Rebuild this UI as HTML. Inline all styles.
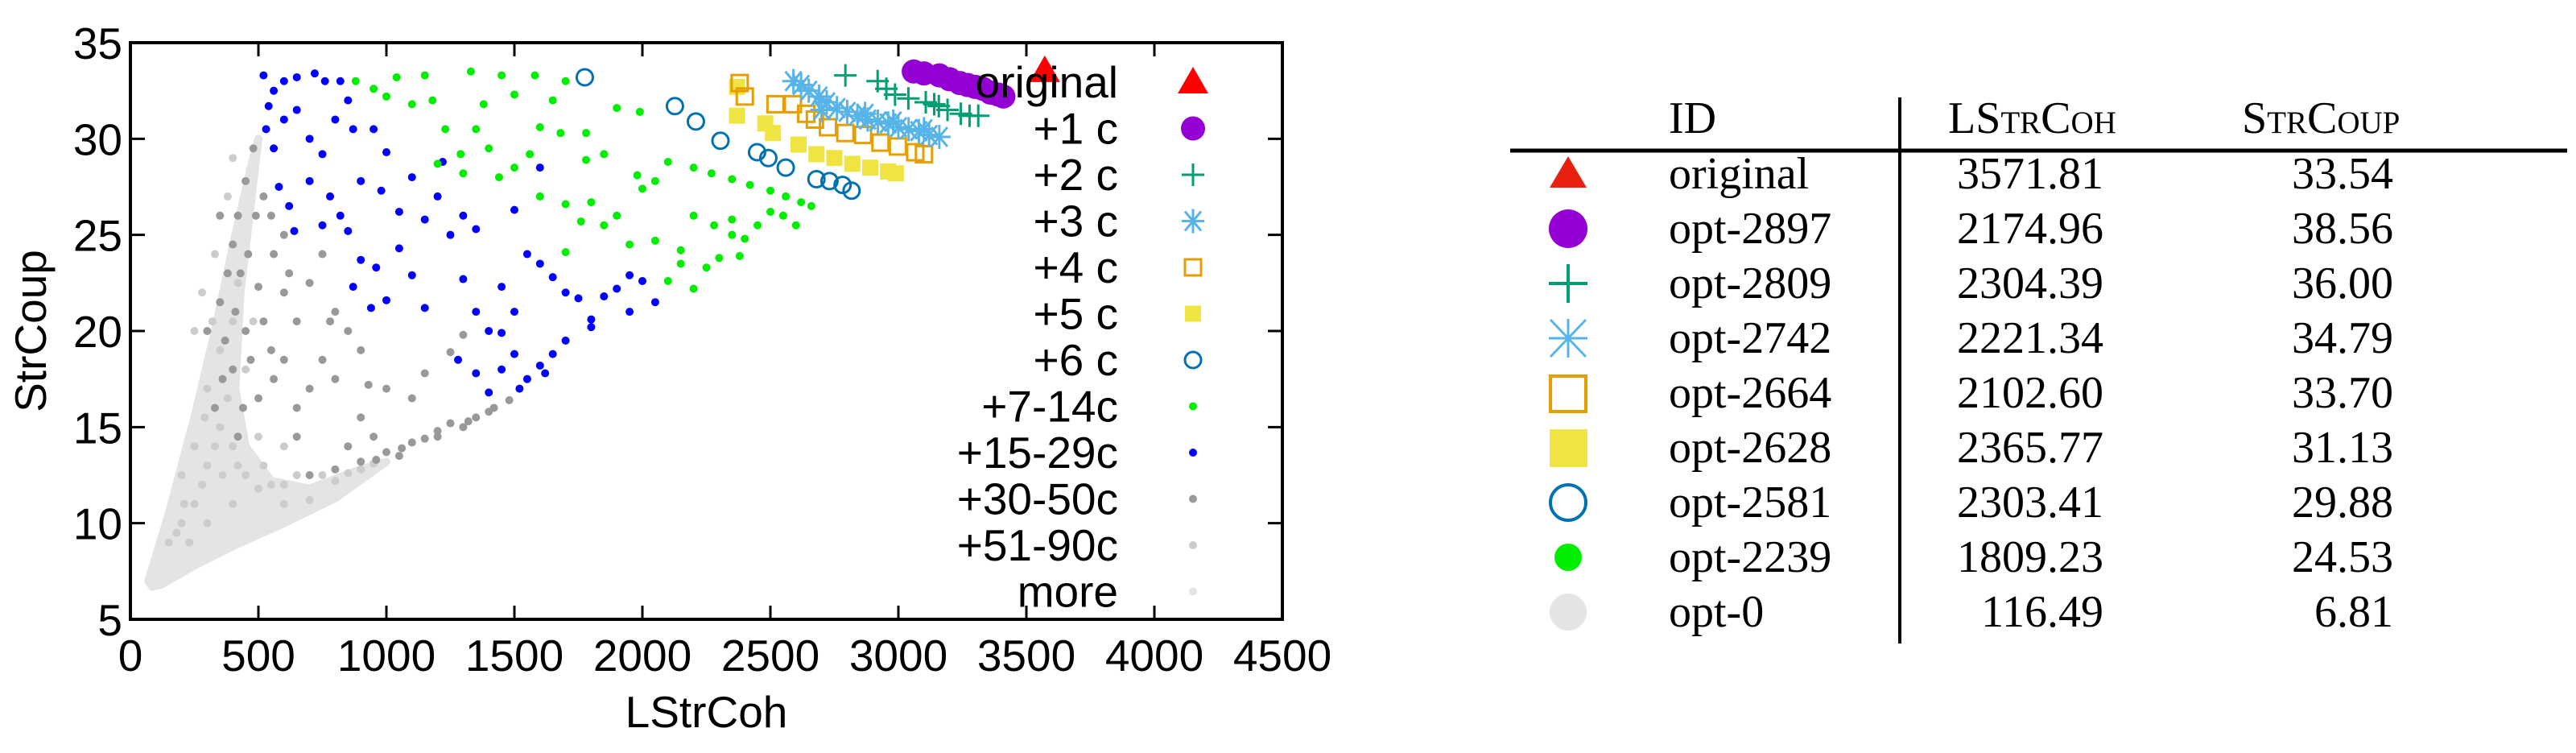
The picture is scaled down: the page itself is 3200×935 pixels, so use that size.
<!DOCTYPE html>
<html><head><meta charset="utf-8"><style>
html,body{margin:0;padding:0;background:#fff;}
svg{display:block;}
text{font-family:"Liberation Sans",sans-serif;}
.serif{font-family:"Liberation Serif",serif;}
</style></head><body>
<svg id="chart" width="3200" height="935" viewBox="0 0 3200 935" xmlns="http://www.w3.org/2000/svg">
<g id="plot"></g>
<g id="table"></g>
</svg>
<script>
// ---------- chart data ----------
const xTicks=[0,500,1000,1500,2000,2500,3000,3500,4000,4500];
const yTicks=[5,10,15,20,25,30,35];
const legendLabels=["original","+1 c","+2 c","+3 c","+4 c","+5 c","+6 c","+7-14c","+15-29c","+30-50c","+51-90c","more"];
const originalPts=[[3571.81,33.54]];
const c1Pts=[[3060,33.5],[3100,33.4],[3160,33.3],[3200,33.1],[3240,32.9],[3270,32.8],[3300,32.7],[3330,32.6],[3360,32.4],[3390,32.3],[3410,32.2]];
const c2Pts=[[2793,33.3],[2919,33.0],[2953,32.6],[2987,32.3],[3039,32.1],[3107,31.9],[3158,31.7],[3192,31.5],[3244,31.3],[3278,31.2],[3312,31.2],[3140,31.8]];
const c3Pts=[[2590,33.0],[2620,32.8],[2650,32.5],[2690,32.2],[2720,31.9],[2760,31.6],[2800,31.4],[2840,31.2],[2880,31.0],[2920,30.9],[2960,30.8],[3000,30.6],[3040,30.5],[3080,30.4],[3120,30.2],[3160,30.1],[2870,31.3],[2980,30.9],[3100,30.5],[2700,31.5]];
const c4Pts=[[2380,32.9],[2400,32.2],[2520,31.8],[2588,31.8],[2640,31.3],[2674,31.0],[2725,30.6],[2793,30.3],[2862,30.2],[2930,29.8],[2998,29.6],[3066,29.3],[3100,29.2]];
const c5Pts=[[2370,32.7],[2370,31.2],[2480,30.8],[2510,30.3],[2610,29.7],[2680,29.2],[2750,29.0],[2820,28.7],[2890,28.5],[2960,28.3],[2990,28.2]];
const c6Pts=[[1775,33.2],[2127,31.7],[2209,30.9],[2305,29.9],[2448,29.3],[2492,29.0],[2560,28.5],[2680,27.9],[2731,27.8],[2782,27.6],[2817,27.3]];
const c7Pts=[[880,33],[950,32.6],[1000,32.2],[1040,33.2],[1100,31.8],[1150,33.3],[1180,32],[1230,30.5],[1330,33.5],[1380,31.8],[1450,33.3],[1500,32.3],[1580,33.3],[1650,32],[1700,33],[1290,29.2],[1400,29.5],[1500,28.5],[1560,29.2],[1200,28.7],[1300,28.2],[1350,30.5],[1440,28],[1600,30.6],[1680,30.3],[1780,30.3],[1900,31.6],[1990,31.4],[1780,28.9],[1850,29.2],[1980,28.1],[2050,27.8],[2100,28.8],[2200,28.5],[2270,28.2],[2350,27.9],[2420,27.6],[2500,27.3],[2560,27],[2620,26.7],[2660,26.5],[1600,27],[1700,26.6],[1800,26.7],[1900,26],[2000,27.4],[2200,26],[2280,25.5],[2350,25],[2400,24.8],[2450,25.5],[2550,26],[2600,25.5],[1950,24.5],[2050,24.7],[2150,23.5],[2250,23.3],[2300,23.8],[2380,23.9],[2100,22.6],[2200,22.2],[1700,24.1],[1760,25.7],[1850,25.5],[2350,25.8],[2500,26.2],[2150,24.2]];
const c15Pts=[[520,33.3],[560,32.5],[540,31.7],[600,33],[650,33.2],[720,33.4],[760,33],[820,33],[850,32],[530,30.5],[560,29.5],[600,31],[650,31.5],[700,30],[750,29.2],[800,31],[870,30.5],[950,30.5],[580,27.5],[620,26.5],[700,27.8],[780,27],[850,25.2],[640,25.2],[750,25.5],[820,26],[900,27.8],[980,27.3],[1050,26.2],[1100,28],[1150,25.8],[1200,27],[1250,25],[1300,26],[1350,25.3],[900,23.7],[960,23.3],[1050,24.3],[1100,22.9],[1000,21.6],[940,21.2],[870,22.3],[1150,21.2],[1300,22.7],[1350,21],[1400,20],[1500,21],[1450,22.3],[1550,24],[1600,23.5],[1650,22.8],[1700,22],[1750,21.7],[1800,20.6],[1850,21.8],[1900,22.2],[1950,22.9],[2000,22.6],[1500,18.8],[1600,18.2],[1650,18.8],[1700,19.5],[1800,20.2],[1550,17.5],[1450,18],[1400,16.8],[1350,17.8],[1280,18.5],[1450,19.9],[1950,21],[2050,21.5],[1220,28.8],[1000,29.3],[1600,28.5],[1500,26.3],[1620,17.8],[1520,17]];
const c30Pts=[[480,29.5],[450,27.8],[420,26],[400,24.5],[380,23],[350,21.5],[600,22],[700,22.5],[650,20.5],[550,19],[600,18.5],[750,18.5],[800,17.5],[700,17],[650,16],[900,15.5],[950,14.5],[850,14],[1000,13.7],[1100,14.2],[1200,14.5],[1300,15],[1400,15.8],[1250,15.2],[1150,17.8],[1100,16.5],[1000,17],[1250,18.9],[1300,19.8],[850,20],[900,19],[500,22.3],[450,20],[750,24],[800,21],[1050,13.5],[1350,15.5],[1480,16.4],[700,12.5],[800,12.8],[900,13.2],[650,14.5],[400,18],[500,16.5],[550,26],[1150,14.4],[1200,14.8],[1320,15.3],[1420,16],[1060,13.9],[960,13.3],[350,26],[300,20],[560,24],[620,23],[780,20.5],[930,17.2],[460,24],[430,23],[410,21],[370,19.5],[360,17.5],[330,16],[470,18.5],[520,20.5],[440,16],[420,14.5],[560,17.5],[600,25],[520,27],[490,26]];
const c51Pts=[[300,17],[350,15],[400,14],[450,12.5],[500,11.8],[550,12],[600,11],[700,11.2],[800,12.2],[900,12.8],[300,13],[250,11],[200,10],[350,19],[400,20.5],[450,18],[250,14],[200,12.5],[150,9],[600,14],[500,14.5],[650,12.5],[400,11],[300,10],[280,22],[250,20],[330,24],[420,22.5],[480,20.5],[380,16.5],[330,14],[280,12],[230,9],[360,12.5],[420,13],[520,13],[600,12],[750,12.5],[850,12.6],[950,13.1],[320,20.5],[290,15.5],[210,11],[180,9.5],[380,27],[400,29]];
const morePoly=[[70,7],[150,10.5],[250,15.5],[330,20],[410,25],[470,28.5],[500,30],[430,22],[410,17],[450,14],[550,12.2],[700,11.8],[900,12.8],[1000,13.2],[800,11.3],[600,10],[400,8.8],[250,7.8],[120,6.8],[85,6.7]];
const morePts=[[110,7.5],[160,8.5],[220,9.5],[180,10.5],[260,12],[140,8],[330,9],[450,10],[600,10.5],[200,8],[300,11],[280,9.5],[380,10]];

// ---------- table data ----------
const tableIds=["original","opt-2897","opt-2809","opt-2742","opt-2664","opt-2628","opt-2581","opt-2239","opt-0"];
const tableLStrCoh=["3571.81","2174.96","2304.39","2221.34","2102.60","2365.77","2303.41","1809.23","116.49"];
const tableStrCoup=["33.54","38.56","36.00","34.79","33.70","31.13","29.88","24.53","6.81"];

const NS="http://www.w3.org/2000/svg";
const L=162,R=1593,T=53,B=769;
const X=v=>L+(v-0)/4500*(R-L);
const Y=v=>B-(v-5)/30*(B-T);
function mk(tag,attrs,parent){const e=document.createElementNS(NS,tag);for(const k in attrs)e.setAttribute(k,attrs[k]);parent.appendChild(e);return e;}
const plot=document.getElementById('plot');

const poly=mk('polygon',{points:morePoly.map(p=>X(p[0])+','+Y(p[1])).join(' '),fill:'#e4e4e4',stroke:'#e4e4e4','stroke-width':10,'stroke-linejoin':'round'},plot);



function marker(kind,cx,cy,g){
  let e;
  if(kind==='tri'){e=mk('polygon',{points:`${cx},${cy-19} ${cx-19},${cy+14} ${cx+19},${cy+14}`,fill:'#ff0000'},g);}
  else if(kind==='purple'){e=mk('circle',{cx,cy,r:15,fill:'#9400d3'},g);}
  else if(kind==='plus'){e=mk('path',{d:`M${cx-14},${cy}H${cx+14}M${cx},${cy-14}V${cy+14}`,stroke:'#009e73','stroke-width':3,fill:'none'},g);}
  else if(kind==='star'){e=mk('path',{d:`M${cx-14},${cy}H${cx+14}M${cx},${cy-15}V${cy+15}M${cx-10},${cy-12}L${cx+10},${cy+12}M${cx-10},${cy+12}L${cx+10},${cy-12}`,stroke:'#56b4e9','stroke-width':3,fill:'none'},g);}
  else if(kind==='osq'){e=mk('rect',{x:cx-10,y:cy-10,width:20,height:20,fill:'none',stroke:'#e69f00','stroke-width':3},g);}
  else if(kind==='fsq'){e=mk('rect',{x:cx-10,y:cy-10,width:20,height:20,fill:'#f0e442'},g);}
  else if(kind==='ocirc'){e=mk('circle',{cx,cy,r:10,fill:'none',stroke:'#0072b2','stroke-width':3},g);}
  else {e=mk('circle',{cx,cy,r:5,fill:kind},g);}
  return e;
}
const series=[
  ['more',morePts,'#e4e4e4'],['51-90c',c51Pts,'#cccccc'],['30-50c',c30Pts,'#999999'],
  ['15-29c',c15Pts,'#0000ff'],['7-14c',c7Pts,'#00ee00'],['6c',c6Pts,'ocirc'],
  ['5c',c5Pts,'fsq'],['4c',c4Pts,'osq'],['3c',c3Pts,'star'],['2c',c2Pts,'plus'],
  ['1c',c1Pts,'purple'],['original',originalPts,'tri']];
series.forEach(s=>{
  const g=mk('g',{},plot);
  
  
  s[1].forEach(p=>{const m=marker(s[2],X(p[0]),Y(p[1]),g);
    
    });
});

const frame=mk('rect',{x:L,y:T,width:R-L,height:B-T,fill:'none',stroke:'#000','stroke-width':4},plot);


xTicks.forEach(v=>{
  const x=X(v);
  mk('path',{d:`M${x},${B}V${B-17}M${x},${T}V${T+17}`,stroke:'#000','stroke-width':3},plot);
  const t=mk('text',{x:x,y:833,'font-size':55,'text-anchor':'middle'},plot);t.textContent=v;
  
  
});
yTicks.forEach(v=>{
  const y=Y(v);
  mk('path',{d:`M${L},${y}H${L+18}M${R},${y}H${R-18}`,stroke:'#000','stroke-width':3},plot);
  const t=mk('text',{x:L-10,y:y+20,'font-size':55,'text-anchor':'end'},plot);t.textContent=v;
  
  
});
const xt=mk('text',{x:(L+R)/2,y:903,'font-size':55,'text-anchor':'middle'},plot);xt.textContent='LStrCoh';


const yt=mk('text',{x:0,y:0,'font-size':55,'text-anchor':'middle',transform:`translate(57,${(T+B)/2}) rotate(-90)`},plot);yt.textContent='StrCoup';



const legKinds=['tri','purple','plus','star','osq','fsq','ocirc','#00ee00','#0000ff','#999999','#cccccc','#e4e4e4'];
const lg=mk('g',{},plot);


legendLabels.forEach((lab,i)=>{
  const y=102+i*57.5;
  const ent=mk('g',{},lg);
  
  
  const t=mk('text',{x:1389,y:y+19,'font-size':55,'text-anchor':'end'},ent);t.textContent=lab;
  marker(legKinds[i],1482,y,ent);
});

// ---------- table ----------
const tb=document.getElementById('table');
mk('path',{d:'M1876,187H3189',stroke:'#000','stroke-width':5},tb);
mk('path',{d:'M2360,121V799',stroke:'#000','stroke-width':4},tb);
function st(txt,x,y,anchor,extra,name){const t=mk('text',Object.assign({x,y,'font-size':56,'text-anchor':anchor,class:'serif'},extra||{}),tb);t.textContent=txt;
  
  return t;}
st('ID',2073,165,'start',{},'header-id');
st('LStrCoh',2420,165,'start',{'font-variant':'small-caps'},'header-lstrcoh');
st('StrCoup',2785,165,'start',{'font-variant':'small-caps'},'header-strcoup');
const tblKinds=['tri','purple','plus','star','osq','fsq','ocirc','green','light'];
tableIds.forEach((id,i)=>{
  const base=234+i*68;
  const cy=base-18;
  const g=mk('g',{},tb);
  
  
  const k=tblKinds[i];let m;
  if(k==='tri')m=mk('polygon',{points:`1948,${cy-22} 1925,${cy+17} 1971,${cy+17}`,fill:'#e8200f'},g);
  else if(k==='purple')m=mk('circle',{cx:1948,cy,r:24,fill:'#9400d3'},g);
  else if(k==='plus')m=mk('path',{d:`M1924,${cy}H1972M1948,${cy-24}V${cy+24}`,stroke:'#009e73','stroke-width':4,fill:'none'},g);
  else if(k==='star')m=mk('path',{d:`M1924,${cy}H1972M1948,${cy-24}V${cy+24}M1926,${cy-23}L1970,${cy+23}M1926,${cy+23}L1970,${cy-23}`,stroke:'#56b4e9','stroke-width':3,fill:'none'},g);
  else if(k==='osq')m=mk('rect',{x:1926,y:cy-21,width:44,height:44,fill:'none',stroke:'#e69f00','stroke-width':4},g);
  else if(k==='fsq')m=mk('rect',{x:1925,y:cy-23,width:47,height:47,fill:'#f0e442'},g);
  else if(k==='ocirc')m=mk('circle',{cx:1948,cy,r:22,fill:'none',stroke:'#0072b2','stroke-width':4},g);
  else if(k==='green')m=mk('circle',{cx:1948,cy,r:17,fill:'#00ee00'},g);
  else m=mk('circle',{cx:1948,cy,r:23,fill:'#e4e4e4'},g);
  
  
  const t1=mk('text',{x:2073,y:base,'font-size':56,class:'serif'},g);t1.textContent=id;
  
  
  const t2=mk('text',{x:2613,y:base,'font-size':56,'text-anchor':'end',class:'serif'},g);t2.textContent=tableLStrCoh[i];
  
  
  const t3=mk('text',{x:2973,y:base,'font-size':56,'text-anchor':'end',class:'serif'},g);t3.textContent=tableStrCoup[i];
  
  
});
</script>
</body></html>
